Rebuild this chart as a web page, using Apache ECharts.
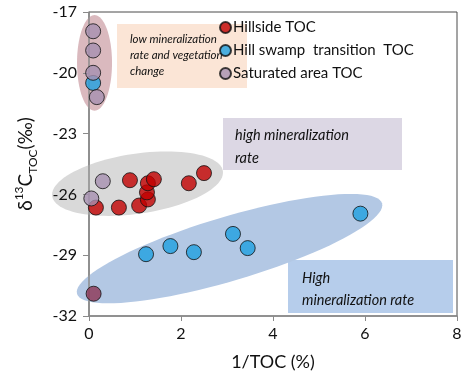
<!DOCTYPE html>
<html>
<head>
<meta charset="utf-8">
<script src="https://cdn.jsdelivr.net/npm/echarts@6/dist/echarts.min.js"></script>
<style>
  html, body { margin: 0; padding: 0; background: #fff; }
  #chart { width: 470px; height: 378px; }
</style>
</head>
<body>
<div id="chart"></div>
<script>
// 1/TOC (%) vs δ13C of TOC (‰) for the three landscape positions
const hillsideX = [0.15, 0.65, 1.09, 1.28, 1.26, 0.89, 1.28, 1.41, 2.17, 2.50];
const hillsideY = [-26.65, -26.65, -26.55, -26.25, -25.9, -25.3, -25.45, -25.25, -25.45, -24.95];

const swampX = [0.09, 1.24, 1.77, 2.28, 3.13, 3.45, 5.90];
const swampY = [-20.5, -28.95, -28.55, -28.85, -27.95, -28.65, -26.95];

const saturatedX = [0.09, 0.09, 0.09, 0.17, 0.30, 0.05];
const saturatedY = [-17.95, -18.9, -20.0, -21.2, -25.35, -26.2];

// deeper saturated sample plotted in a darker tone
const saturatedDeepX = [0.10];
const saturatedDeepY = [-30.9];

const xTicks = { min: 0, max: 8, step: 2 };
const yTicks = { min: -32, max: -17, step: 3 };

const seriesNames = ['Hillside TOC', 'Hill swamp  transition  TOC', 'Saturated area TOC'];

// grouping ellipses: major-axis end points in data units, half width in px
const regions = [
  { a: [0.12, -17.15], b: [0.12, -21.87], half: 17.5, color: '#dab9be' },
  { a: [-0.80, -26.09], b: [2.91, -24.85], half: 30, color: '#d9d9d9' },
  { a: [-0.26, -30.91], b: [6.37, -26.44], half: 32, color: '#b3c8e4' }
];

const pairs = (xs, ys) => xs.map((x, i) => [x, ys[i]]);
const FONT = 'Lato, "Liberation Sans", sans-serif';
const INK = '#111111';

const chart = echarts.init(document.getElementById('chart'), null, { renderer: 'canvas' });

function ellipseItem(params, api) {
  const r = regions[api.value(0)];
  const p1 = api.coord(r.a);
  const p2 = api.coord(r.b);
  const cx = (p1[0] + p2[0]) / 2, cy = (p1[1] + p2[1]) / 2;
  const dx = (p2[0] - p1[0]) / 2, dy = (p2[1] - p1[1]) / 2;
  const len = Math.sqrt(dx * dx + dy * dy);
  const nx = -dy / len * r.half, ny = dx / len * r.half;
  const pts = [];
  for (let k = 0; k < 96; k++) {
    const t = k / 96 * Math.PI * 2;
    const c = Math.cos(t), s = Math.sin(t);
    pts.push([cx + dx * c + nx * s, cy + dy * c + ny * s]);
  }
  return { type: 'polygon', shape: { points: pts }, style: { fill: r.color }, silent: true };
}

const boxText = (x, y, w, h, fill, text, size, lh, padX, padY) => ({
  type: 'group', left: x, top: y, z: 10, silent: true,
  children: [
    { type: 'rect', shape: { x: 0, y: 0, width: w, height: h }, style: { fill: fill } },
    { type: 'text', x: padX, y: padY, style: {
        text: text, fill: INK, font: 'italic ' + size + 'px ' + FONT, lineHeight: lh } }
  ]
});

const option = {
  backgroundColor: '#ffffff',
  animation: false,
  grid: { left: 89, right: 13, top: 12, bottom: 62, show: true, borderColor: '#4a4a4a', borderWidth: 1 },
  xAxis: {
    type: 'value', min: xTicks.min, max: xTicks.max, interval: xTicks.step, z: 1,
    name: '1/TOC (%)', nameLocation: 'middle', nameGap: 37,
    nameTextStyle: { fontFamily: FONT, fontSize: 18, color: INK },
    axisLine: { lineStyle: { color: '#8a8a8a', width: 1.5 } },
    axisTick: { show: true, inside: false, length: 5, lineStyle: { color: '#8a8a8a' } },
    axisLabel: { fontFamily: FONT, fontSize: 16, color: INK, margin: 10 },
    splitLine: { show: false }
  },
  yAxis: {
    type: 'value', min: yTicks.min, max: yTicks.max, interval: yTicks.step, z: 1,
    name: '{d|δ}{sup|13}{d|C}{sub|TOC}{d|(‰)}', nameLocation: 'middle', nameGap: 50, nameRotate: 90,
    nameTextStyle: {
      fontFamily: FONT, fontSize: 19, color: INK, lineHeight: 26,
      rich: {
        d: { fontFamily: FONT, fontSize: 19, color: INK, lineHeight: 26 },
        sup: { fontFamily: FONT, fontSize: 12, color: INK, verticalAlign: 'top', lineHeight: 13 },
        sub: { fontFamily: FONT, fontSize: 12, color: INK, verticalAlign: 'bottom', lineHeight: 13 }
      }
    },
    axisLine: { onZero: false, lineStyle: { color: '#8a8a8a', width: 1.5 } },
    axisTick: { show: true, inside: false, length: 6, lineStyle: { color: '#8a8a8a' } },
    axisLabel: { fontFamily: FONT, fontSize: 16, color: INK, margin: 12 },
    splitLine: { show: false }
  },
  legend: {
    orient: 'vertical', left: 219, top: 20, padding: 0, itemGap: 8,
    itemWidth: 11, itemHeight: 11, icon: 'circle',
    data: seriesNames,
    textStyle: { fontFamily: FONT, fontSize: 15, color: INK, padding: [0, 0, 0, -3] }
  },
  graphic: [
    boxText(117, 24, 130, 64, '#fbe5d6', 'low mineralization\nrate and vegetation\nchange', 11.5, 16, 13, 7),
    boxText(223, 118, 179, 52, '#dcd7e4', 'high mineralization\nrate', 14.5, 23, 12, 6),
    boxText(288, 260, 165, 53, '#b6cdeb', 'High\nmineralization rate', 14.5, 22, 14, 7)
  ],
  series: [
    {
      type: 'custom', name: 'regions', z: 0, silent: true,
      renderItem: ellipseItem,
      data: regions.map((r, i) => [i]),
      encode: { x: -1, y: -1 }
    },
    {
      type: 'scatter', name: seriesNames[0], z: 3, symbolSize: 15,
      itemStyle: { color: '#c00000', borderColor: '#111', borderWidth: 1 },
      data: pairs(hillsideX, hillsideY)
    },
    {
      type: 'scatter', name: seriesNames[1], z: 3, symbolSize: 15,
      itemStyle: { color: '#1fa0e0', borderColor: '#111', borderWidth: 1 },
      data: pairs(swampX, swampY)
    },
    {
      type: 'scatter', name: seriesNames[2], z: 4, symbolSize: 15,
      itemStyle: { color: '#a690b0', borderColor: '#111', borderWidth: 1 },
      data: pairs(saturatedX, saturatedY)
    },
    {
      type: 'scatter', name: seriesNames[2], z: 4, symbolSize: 15,
      itemStyle: { color: '#8c3554', borderColor: '#111', borderWidth: 1 },
      data: pairs(saturatedDeepX, saturatedDeepY)
    }
  ]
};

chart.setOption(option);
</script>
</body>
</html>
